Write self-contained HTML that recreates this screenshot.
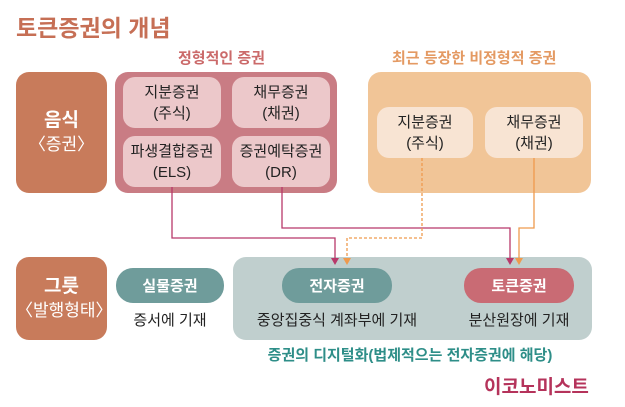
<!DOCTYPE html>
<html><head><meta charset="utf-8"><style>
body{margin:0;width:625px;height:407px;background:#fff;position:relative;overflow:hidden;font-family:"Liberation Sans","Noto Sans CJK KR",sans-serif}
.a{position:absolute;box-sizing:border-box}
.c{display:flex;flex-direction:column;align-items:center;justify-content:center;text-align:center}
.in{background:#ecc8ca;border-radius:12px;font-size:15px;color:#222;line-height:21px}
.in2{background:#f8e4d3;border-radius:12px;font-size:15px;color:#222;line-height:21px}
.pill{border-radius:17px;color:#fff;font-size:15px;font-weight:bold}
.t{font-size:15px;color:#222;text-align:center}
</style></head><body>
<div class="a" style="left:16px;top:9px;font-size:23px;font-weight:bold;color:#c66f55;">토큰증권의 개념</div>
<div class="a" style="left:178px;top:47px;font-size:15px;font-weight:bold;color:#cb6a6a;">정형적인 증권</div>
<div class="a" style="left:392px;top:47px;font-size:15px;font-weight:bold;color:#e49a63;">최근 등장한 비정형적 증권</div>

<div class="a c" style="left:16px;top:72px;width:91px;height:121px;background:#c87b5b;border-radius:13px;color:#fff;font-size:17px;line-height:24px"><b style="font-size:19px">음식</b><span>〈증권〉</span></div>
<div class="a" style="left:115px;top:72px;width:222px;height:121px;background:#c97c84;border-radius:13px"></div>
<div class="a c in" style="left:123px;top:77px;width:98px;height:51px">지분증권<br>(주식)</div>
<div class="a c in" style="left:232px;top:77px;width:98px;height:51px">채무증권<br>(채권)</div>
<div class="a c in" style="left:123px;top:136px;width:98px;height:51px">파생결합증권<br>(ELS)</div>
<div class="a c in" style="left:232px;top:136px;width:98px;height:51px">증권예탁증권<br>(DR)</div>

<div class="a" style="left:368px;top:72px;width:223px;height:121px;background:#f1c597;border-radius:13px"></div>
<div class="a c in2" style="left:377px;top:107px;width:96px;height:51px">지분증권<br>(주식)</div>
<div class="a c in2" style="left:485px;top:107px;width:98px;height:51px">채무증권<br>(채권)</div>

<div class="a c" style="left:16px;top:257px;width:91px;height:83px;background:#c87b5b;border-radius:13px;color:#fff;font-size:17px;line-height:24px"><b style="font-size:19px">그릇</b><span>〈발행형태〉</span></div>
<div class="a c pill" style="left:116px;top:268px;width:108px;height:35px;background:#6f9c9b">실물증권</div>
<div class="a t" style="left:110px;top:309px;width:120px">증서에 기재</div>
<div class="a" style="left:233px;top:257px;width:359px;height:83px;background:#c0cfce;border-radius:13px"></div>
<div class="a c pill" style="left:282px;top:268px;width:110px;height:35px;background:#6f9c9b">전자증권</div>
<div class="a c pill" style="left:464px;top:268px;width:110px;height:35px;background:#c96b74">토큰증권</div>
<div class="a t" style="left:237px;top:309px;width:200px">중앙집중식 계좌부에 기재</div>
<div class="a t" style="left:449px;top:309px;width:140px">분산원장에 기재</div>
<div class="a" style="left:240px;top:344px;width:340px;text-align:center;font-size:15px;font-weight:bold;color:#2e8e88">증권의 디지털화(법제적으는 전자증권에 해당)</div>
<div class="a" style="left:484px;top:372px;font-size:19px;font-weight:bold;color:#b5335b">이코노미스트</div>

<svg class="a" style="left:0;top:0" width="625" height="407">
<g fill="none" stroke-width="1.3">
<polyline points="172,187 172,238 335,238 335,259" stroke="#b8386a"/>
<polyline points="282,187 282,228 510,228 510,259" stroke="#b8386a"/>
<polyline points="422,158 422,238 347,238 347,259" stroke="#ef9a4d" stroke-dasharray="3,2"/>
<polyline points="534,158 534,228 519,228 519,259" stroke="#ef9a4d"/>
</g>
<polygon points="331,258 339,258 335,265" fill="#b8386a"/>
<polygon points="506,258 514,258 510,265" fill="#b8386a"/>
<polygon points="343,258 351,258 347,265" fill="#ef9a4d"/>
<polygon points="515,258 523,258 519,265" fill="#ef9a4d"/>
</svg>
</body></html>
